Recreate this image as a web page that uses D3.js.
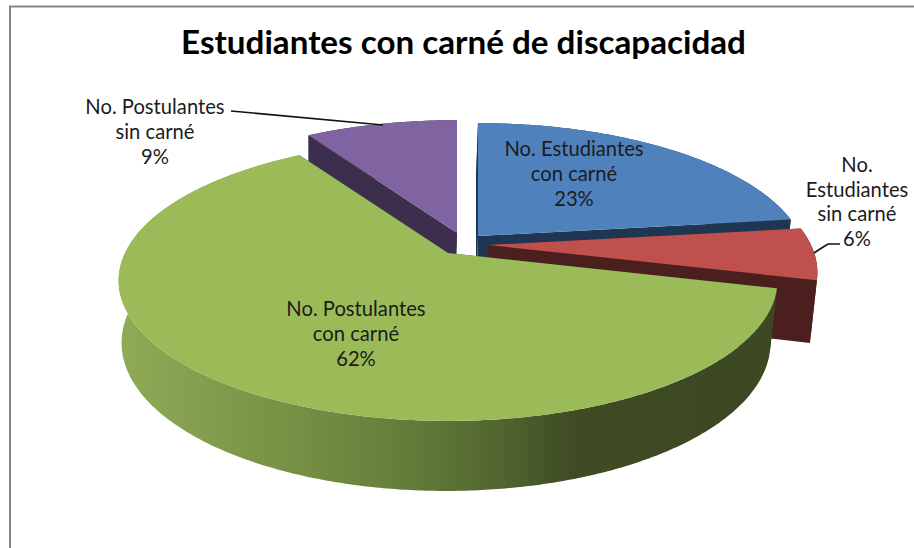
<!DOCTYPE html>
<html><head><meta charset="utf-8">
<script src="https://cdn.jsdelivr.net/npm/d3@7"></script>
<style>html,body{margin:0;padding:0;background:#fff}svg{display:block}</style></head>
<body><div id="chart"></div>
<script>
// data
const categories = ["No. Estudiantes con carné","No. Estudiantes sin carné","No. Postulantes con carné","No. Postulantes sin carné"];
const values = [23,6,62,9];
const percentLabels = ["23%","6%","62%","9%"];
const labelLines = [["No. Estudiantes","con carné","23%"],["No.","Estudiantes","sin carné","6%"],["No. Postulantes","con carné","62%"],["No. Postulantes","sin carné","9%"]];
const titleText = "Estudiantes con carné de discapacidad";
const topColors = ["#4f81bd","#c0504d","#9bbb59","#8064a2"];
const wallColors = ["#1f3653","#4b1f1e","url(#gw)","#3c2f4e"];
const drawOrder = [3,0,1,2];
// layout
const W=914,H=548;
const apexes = [[478,236],[488,245],[448,253],[457,233]];
const R=323, V=135, P=0.196, H0=60.8, RB=0.985, VB=1.055, BX=-2;
const labelPos = [[574,149,25],[857,165,24.5],[356,309,25],[155,107,25]];
const leaders = [[[814,253],[820,249],[828,244],[840,244]],[[231,111],[383,125]]];

const svg=d3.select("#chart").append("svg").attr("width",W).attr("height",H);
const defs=svg.append("defs");
const gx=d3.scaleLinear().domain([0,1]).range([118,772]);
const grad=defs.append("linearGradient").attr("id","gw").attr("gradientUnits","userSpaceOnUse")
  .attr("x1",gx(0)).attr("x2",gx(1)).attr("y1",0).attr("y2",0);
[[0,"#8fab57"],[.2,"#7d9749"],[.42,"#66803b"],[.58,"#526630"],[.7,"#3e4b23"],[1,"#3c4822"]]
 .forEach(s=>grad.append("stop").attr("offset",s[0]).attr("stop-color",s[1]));

svg.append("path").attr("d",`M10,${H}V6.5H${W}`).attr("fill","none").attr("stroke","#868686").attr("stroke-width",2);

const pie=d3.pie().sort(null).value(d=>d);
const arcs=pie(values);
const line=d3.line();
function proj(a,t,bottom){
  const d=-Math.cos(t), s=1/(1-P*d);
  if(!bottom) return [a[0]+R*Math.sin(t)*s, a[1]+V*d*s];
  return [a[0]+BX+R*RB*Math.sin(t)*s, a[1]+H0+V*VB*d*s];
}
function rim(a,t0,t1,b){
  const n=Math.max(4,Math.ceil(Math.abs(t1-t0)/0.01));
  return d3.range(n+1).map(i=>proj(a,t0+(t1-t0)*i/n,b));
}
function apexBottom(a){return [a[0]+BX,a[1]+H0];}
drawOrder.forEach(i=>{
  const a=apexes[i],t0=arcs[i].startAngle,t1=arcs[i].endAngle;
  const g=svg.append("g");
  [t0,t1].forEach(t=>{
    g.append("path").attr("d",line([a,proj(a,t,false),proj(a,t,true),apexBottom(a)])+"Z")
     .attr("fill",i===2?"#3c4822":wallColors[i]);
  });
  g.append("path").attr("d",line(rim(a,t0,t1,false).concat(rim(a,t1,t0,true)))+"Z").attr("fill",wallColors[i]);
  g.append("path").attr("d",line([a].concat(rim(a,t0,t1,false)))+"Z").attr("fill",topColors[i]);
});

leaders.forEach(l=>svg.append("path").attr("d",line(l)).attr("fill","none").attr("stroke","#111").attr("stroke-width",1.6));

svg.append("text").text(titleText).attr("x",463.5).attr("y",54).attr("text-anchor","middle")
  .attr("font-family","Lato").attr("font-weight",700).attr("font-size",33.2).attr("fill","#000");
labelLines.forEach((ls,i)=>{
  const [x,y,dy]=labelPos[i];
  ls.forEach((t,j)=>svg.append("text").text(t).attr("x",x).attr("y",y+j*dy).attr("dy","0.35em")
    .attr("text-anchor","middle").attr("font-family","Lato").attr("font-size",20.2).attr("fill","#1c1c1c"));
});
</script></body></html>
